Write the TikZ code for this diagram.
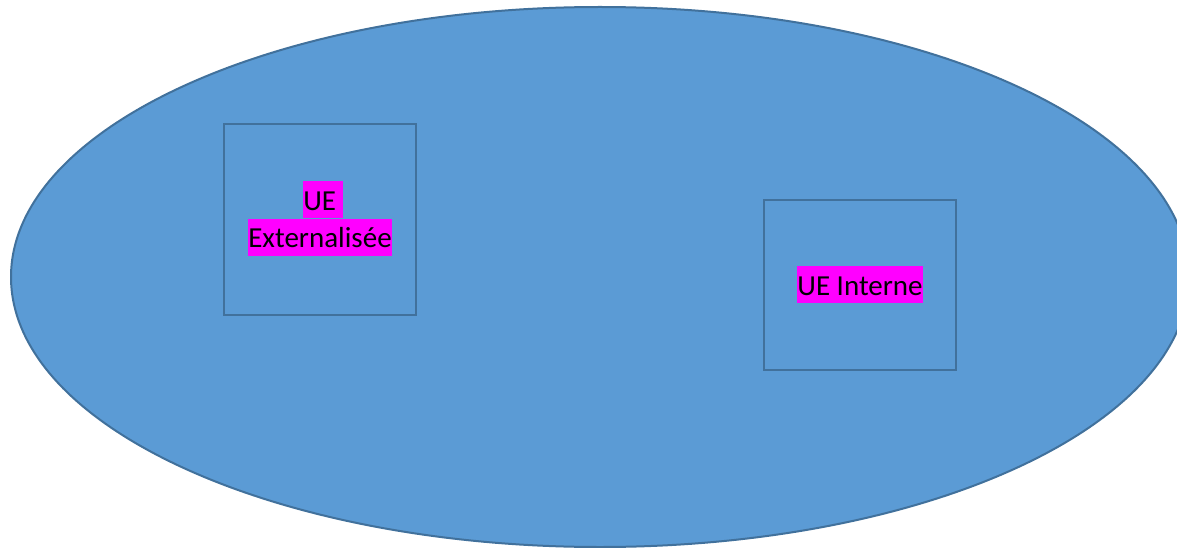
\documentclass[tikz,border=0pt]{standalone}
\usepackage{fontspec}
\setmainfont{Carlito}
\definecolor{shapefill}{HTML}{5B9BD5}
\definecolor{shapeline}{HTML}{41719C}
\definecolor{mark}{HTML}{FF00FF}
\tikzset{
  area/.style={fill=shapefill, draw=shapeline, line width=2pt},
  unitbox/.style={draw=shapeline, line width=2pt, minimum width=192pt, minimum height=191pt, inner sep=0pt},
  tag/.style={fill=mark, text=black, inner xsep=0pt, inner ysep=0pt,
    text height=29pt, text depth=8pt, anchor=base,
    font=\fontsize{29}{37}\selectfont}
}
\begin{document}
\begin{tikzpicture}[x=1pt, y=-1pt]
  \useasboundingbox (0,0) rectangle (1177,548);
  \fill[white] (0,0) rectangle (1177,548);
  \clip (0,0) rectangle (1177,548);
  % outer domain
  \draw[area] (600,277) ellipse [x radius=589, y radius=270];
  % units
  \node[unitbox] (ext) at (320.3,219.5) {};
  \node[unitbox, minimum height=170pt] (int) at (859.5,285.4) {};
  % labels (the first line keeps its trailing space inside the highlight)
  \node[tag] (extA) at (323,210) {UE\kern0.226em};
  \node[tag] (extB) at (320,247.7) {Externalisée};
  \node[tag] (intA) at (860,295) {UE Interne};
\end{tikzpicture}
\end{document}
